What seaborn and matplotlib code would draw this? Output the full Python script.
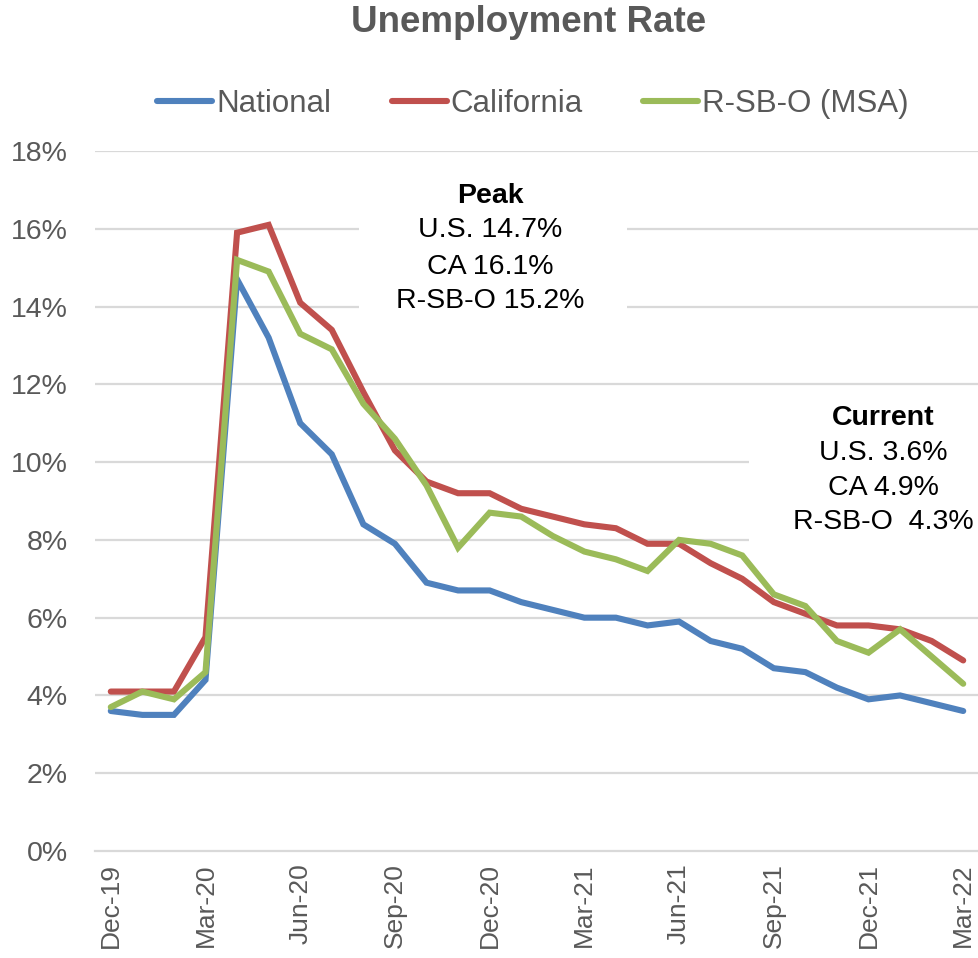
import numpy as np
import pandas as pd
import matplotlib
matplotlib.use("Agg")
import matplotlib.pyplot as plt
from matplotlib.patches import Rectangle
import seaborn as sns

# Monthly unemployment rates, Dec-2019 through Mar-2022 (percent)
months = ["Dec-19", "Jan-20", "Feb-20", "Mar-20", "Apr-20", "May-20", "Jun-20",
          "Jul-20", "Aug-20", "Sep-20", "Oct-20", "Nov-20", "Dec-20", "Jan-21",
          "Feb-21", "Mar-21", "Apr-21", "May-21", "Jun-21", "Jul-21", "Aug-21",
          "Sep-21", "Oct-21", "Nov-21", "Dec-21", "Jan-22", "Feb-22", "Mar-22"]

national = [3.6, 3.5, 3.5, 4.4, 14.7, 13.2, 11.0, 10.2, 8.4, 7.9, 6.9, 6.7, 6.7, 6.4,
            6.2, 6.0, 6.0, 5.8, 5.9, 5.4, 5.2, 4.7, 4.6, 4.2, 3.9, 4.0, 3.8, 3.6]
california = [4.1, 4.1, 4.1, 5.5, 15.9, 16.1, 14.1, 13.4, 11.8, 10.3, 9.5, 9.2, 9.2, 8.8,
              8.6, 8.4, 8.3, 7.9, 7.9, 7.4, 7.0, 6.4, 6.1, 5.8, 5.8, 5.7, 5.4, 4.9]
rsbo_msa = [3.7, 4.1, 3.9, 4.6, 15.2, 14.9, 13.3, 12.9, 11.5, 10.6, 9.4, 7.8, 8.7, 8.6,
            8.1, 7.7, 7.5, 7.2, 8.0, 7.9, 7.6, 6.6, 6.3, 5.4, 5.1, 5.7, 5.0, 4.3]

series_names = ["National", "California", "R-SB-O (MSA)"]
series_colors = ["#4F81BD", "#C0504D", "#9BBB59"]

y_ticks = [0, 2, 4, 6, 8, 10, 12, 14, 16, 18]
x_label_step = 3

peak_lines = ["Peak", "U.S. 14.7%", "CA 16.1%", "R-SB-O 15.2%"]
current_lines = ["Current", "U.S. 3.6%", "CA 4.9%", "R-SB-O  4.3%"]

# Long-form table for seaborn
idx = np.arange(len(months))
df = pd.concat([
    pd.DataFrame({"idx": idx, "rate": vals, "series": name})
    for name, vals in zip(series_names, [national, california, rsbo_msa])
], ignore_index=True)

sns.set_theme(style="white")
plt.rcParams["font.family"] = ["Liberation Sans", "DejaVu Sans"]

W, H = 979, 958
fig = plt.figure(figsize=(W / 100, H / 100), dpi=100)
ax = fig.add_axes([95 / W, (H - 851) / H, (W - 95) / W, 700 / H])

grey_text = "#595959"
grid_col = "#D9D9D9"

sns.lineplot(data=df, x="idx", y="rate", hue="series", hue_order=series_names,
             palette=series_colors, linewidth=4.4, ax=ax, legend=False,
             zorder=5)
for ln in ax.get_lines():
    ln.set_solid_capstyle("round")
    ln.set_solid_joinstyle("miter")

ax.set_xlim(-0.5, len(months) - 0.5)
ax.set_ylim(0, 18)

# horizontal gridlines
ax.set_yticks(y_ticks)
ax.set_yticklabels([f"{t}%" for t in y_ticks])
for t in y_ticks[1:]:
    ax.axhline(t, color=grid_col, lw=1.6, zorder=1)

# white panels behind the annotation blocks
ax.add_patch(Rectangle((7.85, 12.9), 8.5, 4.6, facecolor="white",
                       edgecolor="none", zorder=2))
ax.add_patch(Rectangle((20.2, 7.7), 7.4, 4.0, facecolor="white",
                       edgecolor="none", zorder=2))

# x labels at every third month, tick marks on category boundaries
label_pos = idx[::x_label_step]
ax.set_xticks(label_pos)
ax.set_xticklabels([months[i] for i in label_pos], rotation=90,
                   fontsize=19, color=grey_text)
ax.tick_params(axis="x", length=0, pad=9)
ax.set_xticks(label_pos - 0.5, minor=True)
ax.tick_params(axis="x", which="minor", length=5, width=1.6, color=grid_col,
               direction="out")
ax.tick_params(axis="y", length=0, pad=19.5, labelsize=20.5, labelcolor=grey_text)

for s in ["left", "right", "top"]:
    ax.spines[s].set_visible(False)
ax.spines["bottom"].set_color(grid_col)
ax.spines["bottom"].set_linewidth(1.6)
ax.spines["bottom"].set_zorder(1)
ax.set_xlabel("")
ax.set_ylabel("")

# title
fig.text(529 / W, (H - 22) / H, "Unemployment Rate", ha="center", va="center",
         fontsize=26.5, fontweight="bold", color=grey_text)

# legend
handles = [plt.Line2D([], [], color=c, lw=4.4, solid_capstyle="round")
           for c in series_colors]
fig.legend(handles, series_names, loc="center", ncol=3, frameon=False,
           bbox_to_anchor=(533 / W, (H - 104) / H), fontsize=22.5,
           handlelength=1.75, handletextpad=0.12, columnspacing=1.95,
           labelcolor=grey_text)

# annotation blocks
peak_y = [196, 230, 267, 301]
for i, (txt, yy) in enumerate(zip(peak_lines, peak_y)):
    fig.text(490 / W, (H - yy) / H, txt, ha="center", va="center", fontsize=20.5,
             fontweight="bold" if i == 0 else "normal", color="black", zorder=10)

current_y = [418, 453, 488, 522]
for i, (txt, yy) in enumerate(zip(current_lines, current_y)):
    fig.text(883 / W, (H - yy) / H, txt, ha="center", va="center", fontsize=20.5,
             fontweight="bold" if i == 0 else "normal", color="black", zorder=10)

fig.savefig("out.png", dpi=100, facecolor="white")
